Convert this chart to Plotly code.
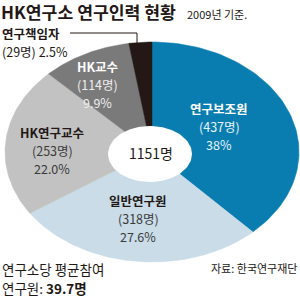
import numpy as np
import plotly.graph_objects as go

categories = ["연구보조원", "일반연구원", "HK연구교수", "HK교수", "연구책임자"]
counts = [437, 318, 253, 114, 29]
percents = ["38%", "27.6%", "22.0%", "9.9%", "2.5%"]
total_label = "1151명"
colors = ["#0a7db0", "#c9dce8", "#c2c2c2", "#7a7a7a", "#231815"]

W, H = 300, 297
cx, cy, rx, ry = 152, 152, 147, 110
hx, hy, hrx, hry = 150, 154, 42, 28

fig = go.Figure()
total = sum(counts)
start = 0.0
for cat, c, col in zip(categories, counts, colors):
    frac = c / total
    th = np.linspace(start, start + frac, 80) * 2 * np.pi
    xs = np.concatenate([[cx], cx + rx * np.sin(th), [cx]])
    ys = np.concatenate([[cy], cy - ry * np.cos(th), [cy]])
    fig.add_trace(go.Scatter(x=xs, y=ys, fill="toself", fillcolor=col, mode="lines",
                             line=dict(width=0.5, color=col), hoverinfo="skip", name=cat))
    start += frac

t = np.linspace(0, 2 * np.pi, 120)
fig.add_trace(go.Scatter(x=hx + hrx * np.cos(t), y=hy + hry * np.sin(t), fill="toself",
                         fillcolor="white", mode="lines", line=dict(width=0, color="white"),
                         hoverinfo="skip"))
# leader line
fig.add_trace(go.Scatter(x=[70, 137, 137], y=[33, 33, 43], mode="lines",
                         line=dict(width=1, color="#231815"), hoverinfo="skip"))

F = "Noto Sans CJK KR"
ann = []
def txt(x, y, s, size, color="#231815", anchor="center"):
    ann.append(dict(x=x, y=y, xref="x", yref="y", text=s, showarrow=False,
                    xanchor=anchor, yanchor="middle", borderpad=0,
                    font=dict(family=F, size=size, color=color)))

txt(0, 11, "<b>HK연구소 연구인력 현황</b>", 17.2, anchor="left")
txt(186, 14, "2009년 기준.", 11, anchor="left")
txt(1, 33, f"<b>{categories[4]}</b>", 12.5, anchor="left")
txt(1, 51, f"({counts[4]}명) {percents[4]}", 12.5, anchor="left")

def slice_label(x, y, i, color, head_color):
    txt(x, y, f"<b>{categories[i]}</b>", 12.5, head_color)
    txt(x, y + 18, f"({counts[i]}명)", 12.5, color)
    txt(x, y + 36, percents[i], 12.5, color)

slice_label(219, 108, 0, "#e8f2f8", "white")
slice_label(138, 200, 1, "#3a3a3a", "#231815")
slice_label(52, 132, 2, "#3a3a3a", "#231815")
slice_label(97, 66, 3, "#eeeeee", "white")
txt(151, 153, total_label, 14, "#231815")
txt(1, 269, "연구소당 평균참여", 13.5, anchor="left")
txt(1, 288, "연구원: <b>39.7명</b>", 13.5, anchor="left")
txt(298, 268, "자료: 한국연구재단", 11, anchor="right")

fig.update_layout(width=W, height=H, margin=dict(l=0, r=0, t=0, b=0),
                  paper_bgcolor="white", plot_bgcolor="white", showlegend=False,
                  annotations=ann)
fig.update_xaxes(range=[0, W], visible=False, fixedrange=True)
fig.update_yaxes(range=[H, 0], visible=False, fixedrange=True)
fig.write_html("out.html", config={"displayModeBar": False})
